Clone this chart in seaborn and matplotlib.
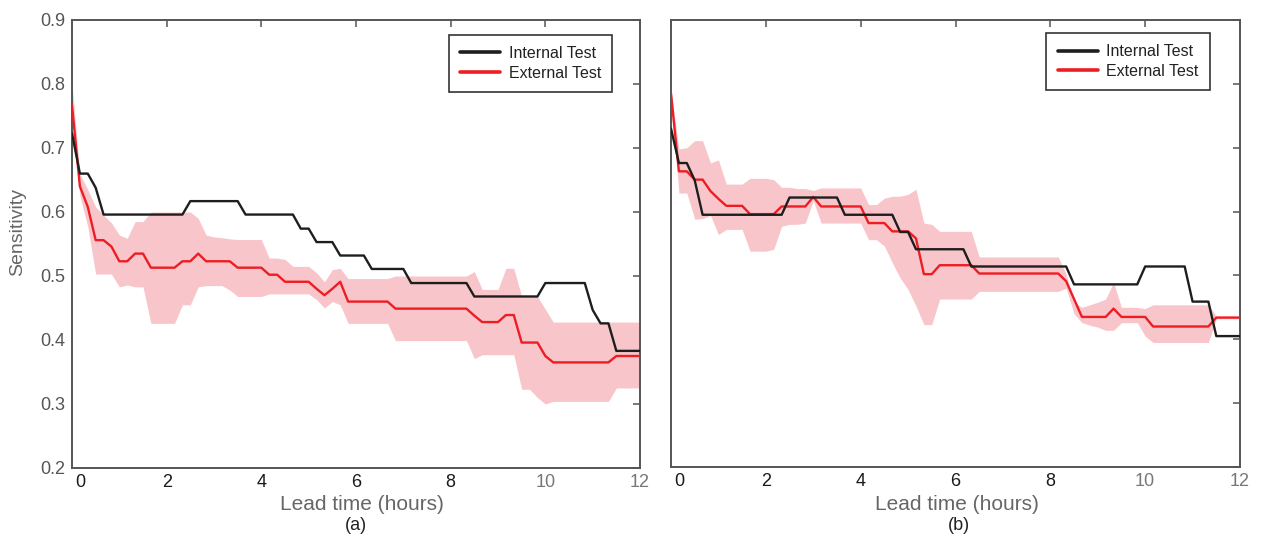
import matplotlib
matplotlib.use("Agg")
import matplotlib.pyplot as plt
import matplotlib.transforms as mtransforms
import numpy as np
import pandas as pd
import seaborn as sns

# Lead time grid, every 10 minutes from 0 to 12 hours
lead_time_min = list(range(0, 721, 10))

# ---- Panel (a) ----
internal_a = [
    0.723, 0.660, 0.660, 0.638, 0.596, 0.596, 0.596, 0.596, 0.596, 0.596, 0.596, 0.596,
    0.596, 0.596, 0.596, 0.617, 0.617, 0.617, 0.617, 0.617, 0.617, 0.617, 0.596, 0.596,
    0.596, 0.596, 0.596, 0.596, 0.596, 0.574, 0.574, 0.553, 0.553, 0.553, 0.532, 0.532,
    0.532, 0.532, 0.511, 0.511, 0.511, 0.511, 0.511, 0.489, 0.489, 0.489, 0.489, 0.489,
    0.489, 0.489, 0.489, 0.468, 0.468, 0.468, 0.468, 0.468, 0.468, 0.468, 0.468, 0.468,
    0.489, 0.489, 0.489, 0.489, 0.489, 0.489, 0.447, 0.426, 0.426, 0.383, 0.383, 0.383,
    0.383,
]
external_a = [
    0.767, 0.640, 0.608, 0.556, 0.556, 0.546, 0.523, 0.523, 0.535, 0.535, 0.513, 0.513,
    0.513, 0.513, 0.523, 0.523, 0.535, 0.523, 0.523, 0.523, 0.523, 0.513, 0.513, 0.513,
    0.513, 0.502, 0.502, 0.491, 0.491, 0.491, 0.491, 0.480, 0.470, 0.480, 0.491, 0.460,
    0.460, 0.460, 0.460, 0.460, 0.460, 0.449, 0.449, 0.449, 0.449, 0.449, 0.449, 0.449,
    0.449, 0.449, 0.449, 0.438, 0.428, 0.428, 0.428, 0.439, 0.439, 0.396, 0.396, 0.396,
    0.375, 0.365, 0.365, 0.365, 0.365, 0.365, 0.365, 0.365, 0.365, 0.375, 0.375, 0.375,
    0.375,
]
external_a_lo = [
    0.765, 0.625, 0.577, 0.503, 0.503, 0.503, 0.483, 0.486, 0.483, 0.483, 0.426, 0.426,
    0.426, 0.426, 0.455, 0.455, 0.483, 0.485, 0.485, 0.485, 0.478, 0.468, 0.468, 0.468,
    0.468, 0.472, 0.472, 0.472, 0.472, 0.472, 0.472, 0.463, 0.450, 0.460, 0.455, 0.426,
    0.426, 0.426, 0.426, 0.426, 0.426, 0.399, 0.399, 0.399, 0.399, 0.399, 0.399, 0.399,
    0.399, 0.399, 0.399, 0.371, 0.377, 0.377, 0.377, 0.377, 0.377, 0.323, 0.323, 0.310,
    0.300, 0.304, 0.304, 0.304, 0.304, 0.304, 0.304, 0.304, 0.304, 0.325, 0.325, 0.325,
    0.325,
]
external_a_hi = [
    0.800, 0.660, 0.635, 0.608, 0.595, 0.583, 0.564, 0.559, 0.585, 0.585, 0.600, 0.600,
    0.600, 0.600, 0.600, 0.600, 0.590, 0.564, 0.561, 0.560, 0.558, 0.557, 0.557, 0.557,
    0.557, 0.528, 0.528, 0.526, 0.515, 0.515, 0.515, 0.505, 0.491, 0.510, 0.512, 0.496,
    0.496, 0.496, 0.496, 0.496, 0.496, 0.500, 0.500, 0.500, 0.500, 0.500, 0.500, 0.500,
    0.500, 0.500, 0.500, 0.507, 0.479, 0.479, 0.479, 0.512, 0.512, 0.468, 0.468, 0.468,
    0.448, 0.428, 0.428, 0.428, 0.428, 0.428, 0.428, 0.428, 0.428, 0.428, 0.428, 0.428,
    0.428,
]

# ---- Panel (b) ----
internal_b = [
    0.730, 0.676, 0.676, 0.649, 0.595, 0.595, 0.595, 0.595, 0.595, 0.595, 0.595, 0.595,
    0.595, 0.595, 0.595, 0.622, 0.622, 0.622, 0.622, 0.622, 0.622, 0.622, 0.595, 0.595,
    0.595, 0.595, 0.595, 0.595, 0.595, 0.568, 0.568, 0.541, 0.541, 0.541, 0.541, 0.541,
    0.541, 0.541, 0.514, 0.514, 0.514, 0.514, 0.514, 0.514, 0.514, 0.514, 0.514, 0.514,
    0.514, 0.514, 0.514, 0.486, 0.486, 0.486, 0.486, 0.486, 0.486, 0.486, 0.486, 0.486,
    0.514, 0.514, 0.514, 0.514, 0.514, 0.514, 0.459, 0.459, 0.459, 0.405, 0.405, 0.405,
    0.405,
]
external_b = [
    0.785, 0.663, 0.663, 0.650, 0.650, 0.632, 0.620, 0.609, 0.609, 0.609, 0.596, 0.596,
    0.596, 0.596, 0.608, 0.608, 0.608, 0.608, 0.623, 0.608, 0.608, 0.608, 0.608, 0.608,
    0.608, 0.582, 0.582, 0.582, 0.569, 0.569, 0.569, 0.558, 0.502, 0.502, 0.516, 0.516,
    0.516, 0.516, 0.516, 0.503, 0.503, 0.503, 0.503, 0.503, 0.503, 0.503, 0.503, 0.503,
    0.503, 0.503, 0.491, 0.463, 0.435, 0.435, 0.435, 0.435, 0.448, 0.435, 0.435, 0.435,
    0.435, 0.420, 0.420, 0.420, 0.420, 0.420, 0.420, 0.420, 0.420, 0.434, 0.434, 0.434,
    0.434,
]
external_b_lo = [
    0.780, 0.629, 0.629, 0.588, 0.589, 0.594, 0.564, 0.572, 0.572, 0.572, 0.538, 0.538,
    0.538, 0.541, 0.577, 0.580, 0.580, 0.582, 0.617, 0.582, 0.582, 0.582, 0.582, 0.582,
    0.582, 0.556, 0.556, 0.546, 0.520, 0.496, 0.478, 0.452, 0.423, 0.423, 0.463, 0.463,
    0.463, 0.463, 0.463, 0.475, 0.475, 0.475, 0.475, 0.475, 0.475, 0.475, 0.475, 0.475,
    0.475, 0.475, 0.480, 0.440, 0.426, 0.422, 0.419, 0.414, 0.414, 0.426, 0.426, 0.426,
    0.405, 0.395, 0.395, 0.395, 0.395, 0.395, 0.395, 0.395, 0.395, 0.432, 0.432, 0.432,
    0.432,
]
external_b_hi = [
    0.790, 0.698, 0.700, 0.711, 0.711, 0.676, 0.681, 0.643, 0.643, 0.643, 0.652, 0.652,
    0.652, 0.650, 0.638, 0.638, 0.636, 0.636, 0.633, 0.637, 0.637, 0.637, 0.637, 0.637,
    0.637, 0.611, 0.611, 0.621, 0.624, 0.624, 0.627, 0.635, 0.582, 0.580, 0.569, 0.569,
    0.569, 0.569, 0.569, 0.529, 0.529, 0.529, 0.529, 0.529, 0.529, 0.529, 0.529, 0.529,
    0.529, 0.529, 0.502, 0.458, 0.450, 0.454, 0.458, 0.463, 0.489, 0.450, 0.450, 0.450,
    0.448, 0.454, 0.454, 0.454, 0.454, 0.454, 0.454, 0.454, 0.454, 0.436, 0.436, 0.436,
    0.436,
]

series_names = ["Internal Test", "External Test"]
panel_tags = ["(a)", "(b)"]
x_ticks = [0, 2, 4, 6, 8, 10, 12]
y_ticks = [0.2, 0.3, 0.4, 0.5, 0.6, 0.7, 0.8, 0.9]

RED = "#EE1D23"
BAND = "#F8C6CA"
BLACK = "#1E1E1E"
SPINE = "#555555"

sns.set_theme(style="white")
plt.rcParams["font.family"] = ["Liberation Sans", "DejaVu Sans"]

W, H = 1262, 542
fig = plt.figure(figsize=(W / 100, H / 100), dpi=100)
ax_a = fig.add_axes([72 / W, 1 - 468 / H, 568 / W, 448 / H])
ax_b = fig.add_axes([671 / W, 1 - 467 / H, 569 / W, 447 / H])

panels = [
    (ax_a, internal_a, external_a, external_a_lo, external_a_hi, 0.951, 0.967),
    (ax_b, internal_b, external_b, external_b_lo, external_b_hi, 0.947, 0.971),
]

for i, (ax, internal, external, lo, hi, lx, ly) in enumerate(panels):
    df = pd.DataFrame({
        "hours": np.array(lead_time_min) / 60.0,
        "internal": internal,
        "external": external,
        "lo": lo,
        "hi": hi,
    })
    ax.fill_between(df["hours"], df["lo"], df["hi"], color=BAND, lw=0, zorder=1)
    sns.lineplot(data=df, x="hours", y="external", color=RED, lw=1.7,
                 ax=ax, label=series_names[1], errorbar=None, zorder=3)
    sns.lineplot(data=df, x="hours", y="internal", color=BLACK, lw=1.7,
                 ax=ax, label=series_names[0], errorbar=None, zorder=4)

    ax.set_xlim(0, 12)
    ax.set_ylim(0.2, 0.9)
    ax.set_xticks(x_ticks)
    ax.set_yticks(y_ticks)
    ax.set_xticklabels([str(v) for v in x_ticks])
    ax.set_yticklabels([f"{v:.1f}" for v in y_ticks])
    ax.set_xlabel("")
    ax.set_ylabel("")

    for s in ax.spines.values():
        s.set_visible(True)
        s.set_color(SPINE)
        s.set_linewidth(1.4)
    ax.tick_params(axis="both", direction="in", length=5, width=1.1,
                   color=SPINE, top=True, right=True, labelsize=13)
    ax.tick_params(axis="x", pad=4)
    ax.tick_params(axis="y", pad=5, labelcolor="#555555")
    for lab, v in zip(ax.get_xticklabels(), x_ticks):
        lab.set_color("#1A1A1A" if v < 10 else "#777777")
    if i == 1:
        ax.tick_params(axis="y", labelleft=False)

    # nudge the "0" label away from the corner
    first = ax.xaxis.get_major_ticks()[0].label1
    first.set_transform(first.get_transform() +
                        mtransforms.ScaledTranslation(0.08, 0, fig.dpi_scale_trans))

    handles, labels = ax.get_legend_handles_labels()
    order = [labels.index(n) for n in series_names]
    leg = ax.legend([handles[j] for j in order], [labels[j] for j in order],
                    loc="upper right", bbox_to_anchor=(lx, ly), fontsize=11.5,
                    frameon=True, fancybox=False, framealpha=1, edgecolor="#333333",
                    borderpad=0.7, labelspacing=0.3, handlelength=2.5,
                    handletextpad=0.55, borderaxespad=0)
    leg.get_frame().set_linewidth(1.2)
    for ln in leg.get_lines():
        ln.set_linewidth(2.6)
    for t in leg.get_texts():
        t.set_color("#222222")

# axis titles and panel tags
fig.text(18 / W, 1 - 232 / H, "Sensitivity", rotation=90, ha="center", va="center",
         fontsize=14, color="#666666")
for cx, tag in [(362, panel_tags[0]), (957, panel_tags[1])]:
    fig.text(cx / W, 1 - 505 / H, "Lead time (hours)", ha="center", va="center",
             fontsize=15, color="#666666")
for cx, tag in [(356, panel_tags[0]), (959, panel_tags[1])]:
    fig.text(cx / W, 1 - 526 / H, tag, ha="center", va="center",
             fontsize=13, color="#222222")

fig.savefig("out.png", dpi=100, facecolor="white")
